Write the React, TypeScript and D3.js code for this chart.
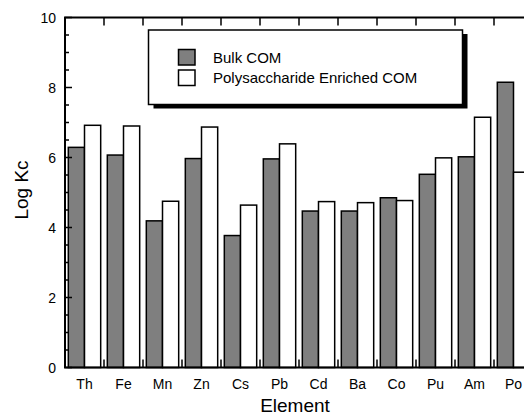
import React from "react";
import * as d3 from "d3";

const categories = ["Th", "Fe", "Mn", "Zn", "Cs", "Pb", "Cd", "Ba", "Co", "Pu", "Am", "Po"];
const bulkCOM = [6.29, 6.07, 4.19, 5.97, 3.77, 5.96, 4.47, 4.47, 4.85, 5.52, 6.02, 8.15];
const polyCOM = [6.92, 6.9, 4.75, 6.87, 4.64, 6.39, 4.74, 4.71, 4.77, 5.99, 7.15, 5.58];
const yTicks = [0, 2, 4, 6, 8, 10];
const seriesNames = ["Bulk COM", "Polysaccharide Enriched COM"];

const W = 524;
const H = 417;
const left = 65;
const top = 17.5;
const bottom = 367.5;
const right = 533;

export default function App() {
  const x = d3.scaleBand<string>().domain(categories).range([left, right]);
  const y = d3.scaleLinear().domain([0, 10]).range([bottom, top]);
  const bw = x.bandwidth();
  const barW = bw * 0.415;
  const off = (bw - 2 * barW) / 2;
  const minor = d3.range(0, 10.01, 0.5);
  const font = "Liberation Sans, Arial, Helvetica, sans-serif";
  const boundaries = categories.slice(1).map((c) => x(c)!);

  return (
    <svg
      width={W}
      height={H}
      style={{ position: "absolute", left: 0, top: 0 }}
      fontFamily={font}
    >
      <rect x={0} y={0} width={W} height={H} fill="#fff" />
      {categories.map((c, i) => {
        const x0 = x(c)! + off;
        return (
          <g key={c}>
            <rect
              x={x0}
              y={y(bulkCOM[i])}
              width={barW}
              height={bottom - y(bulkCOM[i])}
              fill="#7f7f7f"
              stroke="#000"
              strokeWidth={1.5}
            />
            <rect
              x={x0 + barW}
              y={y(polyCOM[i])}
              width={barW}
              height={bottom - y(polyCOM[i])}
              fill="#fff"
              stroke="#000"
              strokeWidth={1.5}
            />
          </g>
        );
      })}
      <line x1={left} y1={top} x2={left} y2={bottom} stroke="#000" strokeWidth={2} />
      <line x1={left - 1} y1={bottom} x2={W} y2={bottom} stroke="#000" strokeWidth={2} />
      <line x1={left - 1} y1={top} x2={W} y2={top} stroke="#000" strokeWidth={2} />
      {minor.map((v) => {
        const major = Math.abs(v % 2) < 1e-6;
        return (
          <line
            key={v}
            x1={left}
            x2={left + (major ? 7 : 4)}
            y1={y(v)}
            y2={y(v)}
            stroke="#000"
            strokeWidth={1.5}
          />
        );
      })}
      {yTicks.map((v) => (
        <text key={v} x={56} y={y(v)} dy="0.36em" textAnchor="end" fontSize={14}>
          {v}
        </text>
      ))}
      {boundaries.map((b, i) => (
        <g key={i}>
          <line x1={b} x2={b} y1={top} y2={top + 8} stroke="#000" strokeWidth={1.5} />
          <line x1={b} x2={b} y1={bottom} y2={bottom - 8} stroke="#000" strokeWidth={1.5} />
        </g>
      ))}
      {categories.map((c) => (
        <text key={c} x={x(c)! + bw / 2} y={389} textAnchor="middle" fontSize={14}>
          {c}
        </text>
      ))}
      <text x={295} y={412} textAnchor="middle" fontSize={19}>
        Element
      </text>
      <text transform={`translate(28,190) rotate(-90)`} textAnchor="middle" fontSize={19}>
        Log Kc
      </text>
      <rect x={153.5} y={34} width={314} height={74.5} fill="#000" />
      <rect x={148.5} y={30} width={314} height={74.5} fill="#fff" stroke="#000" strokeWidth={1.5} />
      <rect x={178.5} y={49.5} width={16.5} height={15.5} fill="#7f7f7f" stroke="#000" strokeWidth={1.5} />
      <rect x={178.5} y={70} width={16.5} height={15.5} fill="#fff" stroke="#000" strokeWidth={1.5} />
      <text x={213} y={62.5} fontSize={15}>
        {seriesNames[0]}
      </text>
      <text x={213} y={83} fontSize={15}>
        {seriesNames[1]}
      </text>
    </svg>
  );
}
